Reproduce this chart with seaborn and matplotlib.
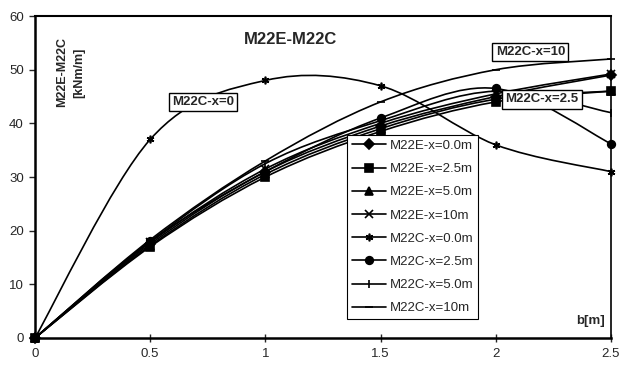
import numpy as np
import pandas as pd
import matplotlib
matplotlib.use("Agg")
import matplotlib.pyplot as plt
from matplotlib.path import Path
from matplotlib.patches import PathPatch
from matplotlib.lines import Line2D
import seaborn as sns

sns.set_style("ticks")
plt.rcParams['font.family'] = ['Liberation Sans', 'DejaVu Sans']

b = [0, 0.5, 1, 1.5, 2, 2.5]
series = ["M22E-x=0.0m", "M22E-x=2.5m", "M22E-x=5.0m", "M22E-x=10m",
          "M22C-x=0.0m", "M22C-x=2.5m", "M22C-x=5.0m", "M22C-x=10m"]
m_e00 = [0, 17.5, 31, 39.5, 45, 49]
m_e25 = [0, 17, 30, 38.5, 44, 46]
m_e50 = [0, 17.2, 30.5, 39, 44.5, 46]
m_e10 = [0, 17.8, 31.5, 40, 45.5, 49.2]
m_c00 = [0, 37, 48, 47, 36, 31]
m_c25 = [0, 18, 31, 41, 46.5, 36.2]
m_c50 = [0, 18, 32.5, 40.5, 46, 42]
m_c10 = [0, 18.3, 33, 44, 50, 52]
values = [m_e00, m_e25, m_e50, m_e10, m_c00, m_c25, m_c50, m_c10]
markers = {"M22E-x=0.0m": "D", "M22E-x=2.5m": "s", "M22E-x=5.0m": "^",
           "M22E-x=10m": "x", "M22C-x=0.0m": (6, 2, 0), "M22C-x=2.5m": "o",
           "M22C-x=5.0m": "|", "M22C-x=10m": "_"}

df = pd.DataFrame([(s, x, v) for s, vals in zip(series, values) for x, v in zip(b, vals)],
                  columns=["series", "b", "M"])

fig = plt.figure(figsize=(6.19, 3.65), dpi=100)
ax = fig.add_axes([0.0565, 0.074, 0.9305, 0.882])

# markers only (per series), smooth lines drawn below
for s in series:
    d = df[df.series == s]
    sns.lineplot(data=d, x="b", y="M", marker=markers[s], color="k", linewidth=0,
                 markersize=5.5, markeredgewidth=1.2, markeredgecolor="k",
                 markerfacecolor="k", legend=False, sort=False,
                 ax=ax, clip_on=False, zorder=3)


def smooth_path(xs, ys):
    p = np.column_stack([xs, ys]).astype(float)
    ext = np.vstack([p[0], p, p[-1]])
    verts = [p[0]]
    codes = [Path.MOVETO]
    for i in range(len(p) - 1):
        p0, p1, p2, p3 = ext[i], ext[i + 1], ext[i + 2], ext[i + 3]
        verts += [p1 + (p2 - p0) / 6, p2 - (p3 - p1) / 6, p2]
        codes += [Path.CURVE4] * 3
    return Path(verts, codes)


for s in series:
    d = df[df.series == s]
    ax.add_patch(PathPatch(smooth_path(d.b, d.M), fill=False, ec="k", lw=1.2, zorder=2))

ax.set_xlim(0, 2.5)
ax.set_ylim(0, 60)
ax.set_xticks([0, 0.5, 1, 1.5, 2, 2.5])
ax.set_xticklabels(["0", "0.5", "1", "1.5", "2", "2.5"])
ax.set_yticks(range(0, 61, 10))
ax.tick_params(direction="inout", length=6, width=1, labelsize=9.5, pad=4)
ax.tick_params(axis="y", direction="out", length=4)
ax.set_xlabel("")
ax.set_ylabel("")
for side, lw in zip(["left", "bottom", "top", "right"], [1.8, 1.8, 1.5, 1.2]):
    ax.spines[side].set_linewidth(lw)
    ax.spines[side].set_color("k")

ax.text(1.107, 55.7, "M22E-M22C", ha="center", va="center", fontsize=12, fontweight="bold")
ax.text(0.155, 49.5, "M22E-M22C\n[kNm/m]", ha="center", va="center", rotation=90,
        fontsize=9, fontweight="bold", linespacing=1.6)
ax.text(2.41, 3.2, "b[m]", ha="center", va="center", fontsize=9.5, fontweight="bold")

box = dict(boxstyle="square,pad=0.25", fc="white", ec="k", lw=1)
lbl = dict(ha="center", va="center", fontsize=9.5, fontweight="bold", bbox=box)
ax.text(0.73, 44, "M22C-x=0", **lbl)
ax.text(2.15, 53.3, "M22C-x=10", **lbl)
ax.text(2.20, 44.5, "M22C-x=2.5", **lbl)

handles = [Line2D([], [], color="k", lw=1.2, marker=markers[s], markersize=5.5,
                  markeredgewidth=1.2) for s in series]
leg = ax.legend(handles, series, loc="upper left", bbox_to_anchor=(0.542, 0.630),
                borderaxespad=0, frameon=True, fancybox=False, fontsize=9.5,
                handlelength=2.6, labelspacing=0.83, handletextpad=0.25,
                borderpad=0.35, framealpha=1)
leg.get_frame().set_edgecolor("k")
leg.get_frame().set_linewidth(0.8)
leg.set_zorder(5)

fig.savefig("out.png", dpi=100)
